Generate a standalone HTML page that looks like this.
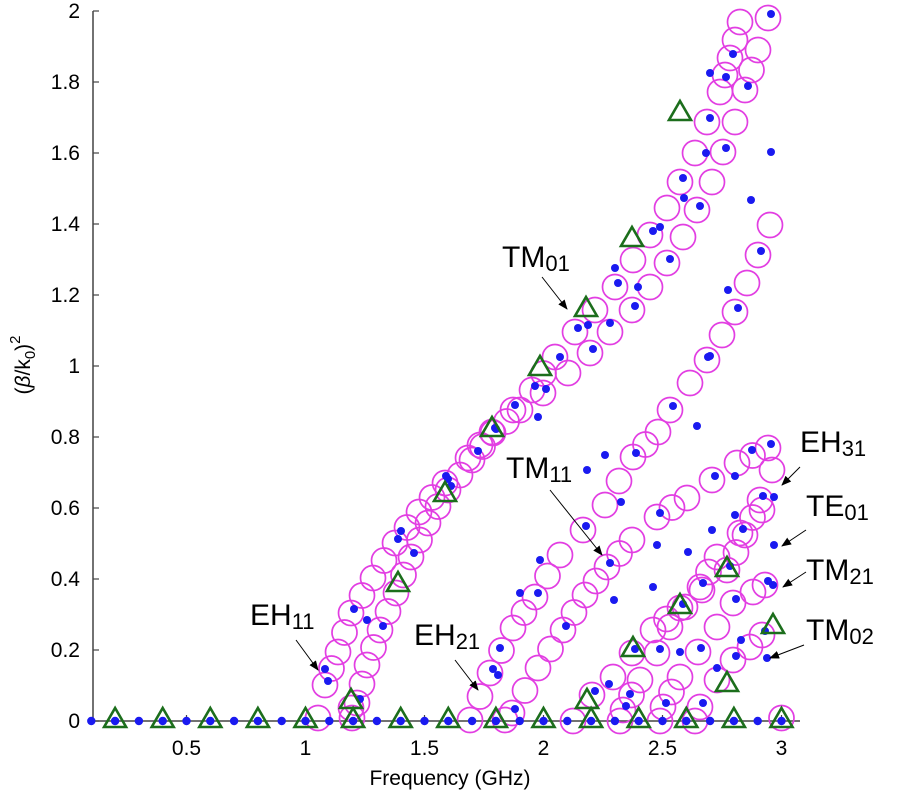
<!DOCTYPE html>
<html><head><meta charset="utf-8">
<style>
body{margin:0;background:#fff;}
svg{display:block;font-family:"Liberation Sans",Arial,sans-serif;}
.ann{font-family:"Liberation Sans",sans-serif;font-size:30px;fill:#000;}
</style></head>
<body>
<svg id="s" width="900" height="800" viewBox="0 0 900 800" xmlns="http://www.w3.org/2000/svg">
<defs>
<marker id="ar" markerWidth="10" markerHeight="10" refX="9" refY="5" orient="auto" markerUnits="userSpaceOnUse">
<path d="M0,1 L10,5 L0,9 z" fill="#000"/></marker>
</defs>
<g id="axes" stroke="#444" stroke-width="1.5" fill="none">
<line x1="93" y1="11" x2="93" y2="721"/>
<line x1="93" y1="721" x2="800" y2="721"/>
</g>
<g id="ticks" stroke="#444" stroke-width="1.2"></g>
<g id="labels" font-size="21" fill="#000"></g>
<g id="circ" fill="none" stroke="#e23ee2" stroke-width="1.7"></g>
<g id="dots" fill="#1a1af0"></g>
<g id="tri" fill="none" stroke="#1c6e1c" stroke-width="2.6"></g>
<text x="450" y="785" font-size="21" text-anchor="middle">Frequency (GHz)</text>
<text transform="translate(30,365) rotate(-90)" font-size="21" text-anchor="middle">(<tspan font-style="italic">β</tspan>/k<tspan font-size="15" dy="5">0</tspan><tspan dy="-5">)</tspan><tspan font-size="15" dy="-10">2</tspan></text>
<g class="ann">
<text x="502" y="267">TM<tspan font-size="22" dy="4">01</tspan></text>
<text x="250" y="625">EH<tspan font-size="22" dy="4">11</tspan></text>
<text x="414" y="645">EH<tspan font-size="22" dy="4">21</tspan></text>
<text x="506" y="478">TM<tspan font-size="22" dy="4">11</tspan></text>
<text x="800" y="452">EH<tspan font-size="22" dy="4">31</tspan></text>
<text x="806" y="516">TE<tspan font-size="22" dy="4">01</tspan></text>
<text x="806" y="580">TM<tspan font-size="22" dy="4">21</tspan></text>
<text x="806" y="640">TM<tspan font-size="22" dy="4">02</tspan></text>
</g>
<g stroke="#000" stroke-width="1" marker-end="url(#ar)">
<line x1="296" y1="640" x2="318" y2="670"/>
<line x1="542" y1="277" x2="567" y2="309"/>
<line x1="455" y1="660" x2="478" y2="690"/>
<line x1="550" y1="490" x2="602" y2="555"/>
<line x1="800" y1="467" x2="782" y2="485"/>
<line x1="806" y1="530" x2="782" y2="546"/>
<line x1="806" y1="572" x2="783" y2="587"/>
<line x1="804" y1="645" x2="770" y2="658"/>
</g>
</svg>
<script>
var NS="http://www.w3.org/2000/svg";
function el(g,t,a){var e=document.createElementNS(NS,t);for(var k in a)e.setAttribute(k,a[k]);document.getElementById(g).appendChild(e);return e;}
function X(f){return 67.5+238*f;}
function Y(v){return 721-355*v;}
for(var i=0;i<=10;i++){var v=i*0.2,y=Y(v);el("ticks","line",{x1:93,y1:y,x2:99,y2:y});
var t=el("labels","text",{x:80,y:y+7,"text-anchor":"end"});t.textContent=(i==0?"0":(i%5==0?String(i/5):v.toFixed(1)));}
var xl=[0.5,1,1.5,2,2.5,3];
for(var i=0;i<xl.length;i++){var x=X(xl[i]);el("ticks","line",{x1:x,y1:721,x2:x,y2:715});
var t=el("labels","text",{x:x,y:755,"text-anchor":"middle"});t.textContent=String(xl[i]);}
var lines=[
[[318,718],[325,685],[338,652],[351,613],[373,578],[395,543],[419,512],[445,483],[468,458],[492,432],[513,410],[532,390],[555,357],[575,332],[595,310],[615,287],[633,260],[650,235],[667,208],[680,182],[695,153],[707,122],[720,92],[730,58],[740,22]],
[[352,718],[357,703],[367,665],[380,630],[396,593],[411,557],[428,523],[448,490],[472,460],[493,433],[520,410],[543,393],[568,373],[590,353],[610,332],[632,310],[650,287],[667,263],[683,237],[697,210],[712,182],[723,152],[735,122],[745,90],[758,50],[768,18]],
[[470,720],[490,673],[513,628],[535,597],[560,555],[583,530],[605,505],[633,457],[658,432],[670,410],[690,383],[707,360],[722,335],[735,312],[747,283],[758,255],[770,225]],
[[505,720],[512,713],[538,668],[563,630],[585,595],[607,567],[632,540],[657,517],[687,498],[712,480],[737,463],[768,448]],
[[573,721],[592,695],[613,677],[632,653],[653,630],[680,608],[702,590],[727,570],[745,535],[760,500],[772,470]],
[[620,721],[623,710],[640,680],[657,653],[670,627],[700,587],[717,557],[740,533],[762,510]],
[[660,721],[663,707],[680,677],[698,652],[717,627],[733,603],[753,592],[765,585]],
[[695,721],[700,707],[717,680],[733,660],[750,647],[762,635]]
];
for(var l=0;l<lines.length;l++){var L=lines[l];
for(var i=0;i<L.length;i++){var p=L[i];el("circ","circle",{cx:p[0],cy:p[1],r:12.5});
if(i>0){var q=L[i-1],d=Math.hypot(p[0]-q[0],p[1]-q[1]);if(d>34){el("circ","circle",{cx:(p[0]+q[0])/2,cy:(p[1]+q[1])/2,r:12.5});}}
if(i%2==1)el("dots","circle",{cx:p[0]+3,cy:p[1]-4,r:4});}}
el("circ","circle",{cx:X(3),cy:718,r:12.5});
el("circ","circle",{cx:351,cy:708,r:12.5});
for(var i=1;i<=30;i++)el("dots","circle",{cx:X(i/10),cy:721,r:4.2});
var extra=[[325,669],[367,620],[401,531],[446,476],[478,451],[515,405],[538,417],[560,357],[588,325],[610,323],[615,268],[638,287],[660,227],[684,198],[706,153],[710,73],[726,77],[771,152],[697,426],[708,357],[728,290],[751,200],[688,552],[657,545],[621,502],[587,470],[605,455],[540,560],[520,593],[500,648],[498,675],[614,600],[653,587],[712,530],[735,515],[774,497],[774,545],[773,585],[767,658],[741,640],[717,668],[680,652],[630,694],[609,684],[735,476],[752,450]];
for(var i=0;i<extra.length;i++)el("dots","circle",{cx:extra[i][0],cy:extra[i][1],r:4});
function tri(x,y){el("tri","path",{d:"M"+x+","+(y-11)+" L"+(x+11)+","+(y+8)+" L"+(x-11)+","+(y+8)+" Z"});}
for(var i=1;i<=15;i++)tri(X(i*0.2),719);
var tr=[[351,700],[398,583],[445,493],[492,428],[540,367],[586,308],[632,238],[680,112],[587,700],[633,648],[680,605],[727,568],[727,683],[773,625]];
for(var i=0;i<tr.length;i++)tri(tr[i][0],tr[i][1]);
</script>
</body></html>
